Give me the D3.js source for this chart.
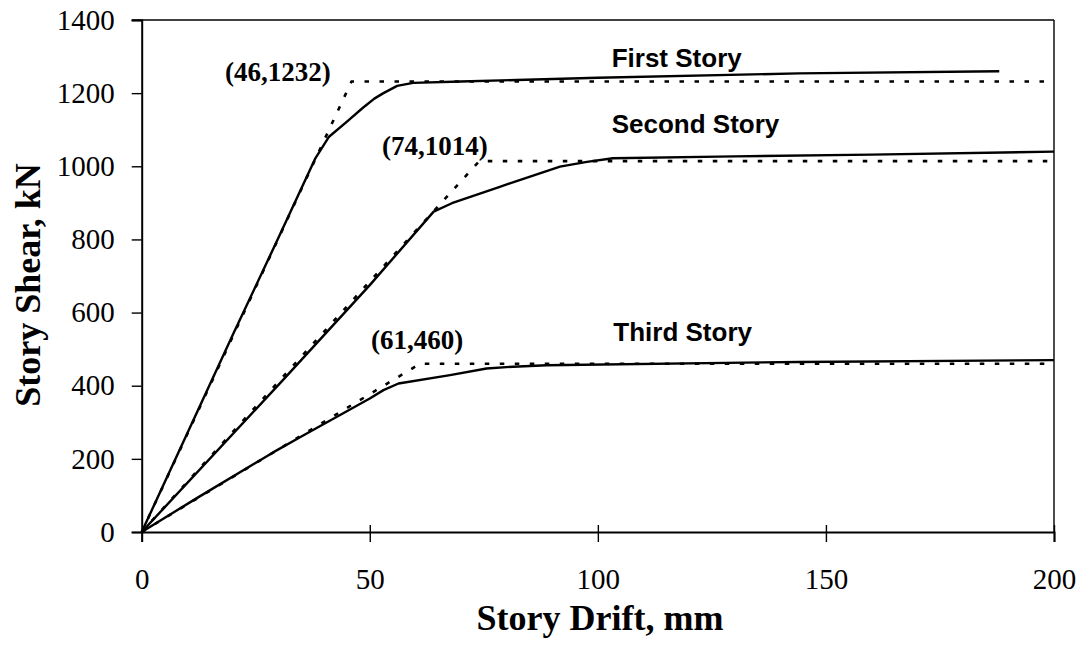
<!DOCTYPE html>
<html>
<head>
<meta charset="utf-8">
<script src="https://cdn.jsdelivr.net/npm/d3@7/dist/d3.min.js"></script>
<style>
  html, body { margin: 0; padding: 0; background: #fff; }
  svg { display: block; }
</style>
</head>
<body>
<svg id="chart" width="1089" height="654"></svg>
<script>
// Axis ticks
const xTicks = [0, 50, 100, 150, 200];
const yTicks = [0, 200, 400, 600, 800, 1000, 1200, 1400];

// Measured pushover curves (drift in mm, shear in kN)
const firstDrift  = [0, 20, 30, 38, 41, 45, 48.5, 51, 53, 56, 59.5, 70, 100, 144, 188];
const firstShear  = [0, 540, 805, 1020, 1080, 1122, 1160, 1185, 1200, 1220, 1228, 1232, 1242, 1254, 1260];
const secondDrift = [0, 31, 50, 64, 68, 78.5, 91.7, 97.6, 103.3, 130, 160, 200];
const secondShear = [0, 416, 675, 876, 899, 944, 999, 1012, 1022, 1027, 1032, 1040];
const thirdDrift  = [0, 12, 29, 35, 50, 53, 56.3, 67.6, 75.6, 81.4, 88.8, 144, 200];
const thirdShear  = [0, 92, 219, 261, 365, 388, 406, 429, 447, 452, 456, 465, 470];

// Bilinear idealisations: origin -> yield point -> plateau
const firstIdealDrift  = [0, 46, 198];
const firstIdealShear  = [0, 1232, 1232];
const secondIdealDrift = [0, 74, 200];
const secondIdealShear = [0, 1014, 1014];
const thirdIdealDrift  = [0, 61, 200];
const thirdIdealShear  = [0, 460, 460];

const storyNames = ["First Story", "Second Story", "Third Story"];

const svg = d3.select("#chart");
const serif = "'Liberation Serif', 'Times New Roman', serif";
const sans = "'Liberation Sans', Arial, sans-serif";

const plotLeft = 141.7, plotRight = 1054, plotTop = 20, plotBottom = 532;
const x = d3.scaleLinear().domain([0, 200]).range([plotLeft, plotRight]);
const y = d3.scaleLinear().domain([0, 1400]).range([plotBottom, plotTop]);

// Frame: top and right edges
svg.append("line").attr("x1", plotLeft - 10).attr("x2", plotRight).attr("y1", plotTop).attr("y2", plotTop)
  .attr("stroke", "#000").attr("stroke-width", 1.4);
svg.append("line").attr("x1", plotRight).attr("x2", plotRight).attr("y1", plotTop).attr("y2", plotBottom)
  .attr("stroke", "#000").attr("stroke-width", 1.4);

// Y axis
const yAxis = svg.append("g").attr("transform", `translate(${plotLeft},0)`)
  .call(d3.axisLeft(y).tickValues(yTicks).tickSize(10).tickPadding(17).tickFormat(d3.format("d")));
yAxis.select(".domain").attr("stroke-width", 2);
yAxis.selectAll(".tick line").attr("stroke-width", 1.4);
yAxis.selectAll(".tick text").attr("font-family", serif).attr("font-size", 29).attr("fill", "#000");

// X axis, ticks cross the line
const xAxis = svg.append("g").attr("transform", `translate(0,${plotBottom})`)
  .call(d3.axisBottom(x).tickValues(xTicks).tickSize(10).tickPadding(26).tickFormat(d3.format("d")));
xAxis.select(".domain").attr("stroke-width", 2);
xAxis.selectAll(".tick line").attr("stroke-width", 1.4).attr("y1", d => d === 0 ? 0 : -7);
xAxis.selectAll(".tick text").attr("font-family", serif).attr("font-size", 29).attr("fill", "#000");

// Axis titles
svg.append("text").attr("x", 600).attr("y", 630).attr("text-anchor", "middle")
  .attr("font-family", serif).attr("font-weight", "bold").attr("font-size", 36)
  .text("Story Drift, mm");
svg.append("text").attr("transform", "translate(40,285) rotate(-90)").attr("text-anchor", "middle")
  .attr("font-family", serif).attr("font-weight", "bold").attr("font-size", 36)
  .text("Story Shear, kN");

const line = d3.line().x(d => x(d[0])).y(d => y(d[1]));
const pairs = (a, b) => a.map((v, i) => [v, b[i]]);

// Idealised (dotted) curves
[[firstIdealDrift, firstIdealShear], [secondIdealDrift, secondIdealShear], [thirdIdealDrift, thirdIdealShear]]
  .forEach(([dx, sy]) => {
    svg.append("path").datum(pairs(dx, sy)).attr("d", line)
      .attr("fill", "none").attr("stroke", "#000").attr("stroke-width", 2.6)
      .attr("stroke-dasharray", "4.5 10.5");
  });

// Measured (solid) curves
[[firstDrift, firstShear], [secondDrift, secondShear], [thirdDrift, thirdShear]]
  .forEach(([dx, sy]) => {
    svg.append("path").datum(pairs(dx, sy)).attr("d", line)
      .attr("fill", "none").attr("stroke", "#000").attr("stroke-width", 2.4)
      .attr("stroke-linejoin", "round");
  });

// Story labels
const storyLabelPos = [[611.7, 66.7], [611.7, 133.3], [613.3, 340.7]];
storyNames.forEach((name, i) => {
  svg.append("text").attr("x", storyLabelPos[i][0]).attr("y", storyLabelPos[i][1])
    .attr("font-family", sans).attr("font-weight", "bold").attr("font-size", 26)
    .text(name);
});

// Yield-point annotations
const yieldPoints = [[firstIdealDrift[1], firstIdealShear[1]], [secondIdealDrift[1], secondIdealShear[1]], [thirdIdealDrift[1], thirdIdealShear[1]]];
const yieldLabelPos = [[225, 81], [382, 155], [371, 349]];
yieldPoints.forEach((p, i) => {
  svg.append("text").attr("x", yieldLabelPos[i][0]).attr("y", yieldLabelPos[i][1])
    .attr("font-family", serif).attr("font-weight", "bold").attr("font-size", 27)
    .text(`(${p[0]},${p[1]})`);
});
</script>
</body>
</html>
